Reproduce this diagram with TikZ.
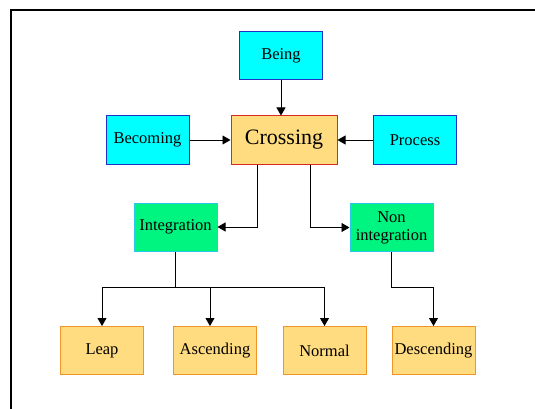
\documentclass[tikz,border=0pt]{standalone}
\usepackage{fontspec}
\setmainfont{Liberation Serif}
\usetikzlibrary{arrows.meta}

\definecolor{boxcyan}{RGB}{0,255,255}
\definecolor{edgeblue}{RGB}{30,50,200}
\definecolor{boxgreen}{RGB}{0,245,128}
\definecolor{edgecyan}{RGB}{40,200,230}
\definecolor{boxsand}{RGB}{255,220,128}
\definecolor{edgeorange}{RGB}{240,150,40}
\definecolor{edgered}{RGB}{220,40,30}

\begin{document}
\begin{tikzpicture}[x=1pt,y=-1pt,
    box/.style={draw,line width=1pt,minimum width=83pt,minimum height=48pt,
                inner sep=2pt,font=\fontsize{16.5}{18}\selectfont,align=center},
    origin/.style={box,fill=boxcyan,draw=edgeblue},
    branch/.style={box,fill=boxgreen,draw=edgecyan},
    leaf/.style={box,fill=boxsand,draw=edgeorange},
    link/.style={line width=0.8pt,-{Triangle[length=8pt,width=9pt]}}]

                \useasboundingbox (0,0) rectangle (535,409);
                \draw [line width=1.6pt] (11,409)--(11,10)--(535,10);

                % top row
                \node [origin] (Being) at (281,55.5) {Being};
                \node [origin] (Becoming) at (147.5,140) {Becoming};
                \node [box,fill=boxsand,draw=edgered,minimum width=106pt,
                       font=\fontsize{22}{22}\selectfont] (Crossing) at (284,140) {Crossing};
                \node [origin] (Process) at (415,140) {Process};

                % middle row
                \node [branch] (Integration) at (175.5,227) {Integration};
                \node [branch] (NonInt) at (391.5,227.5) {Non\\integration};

                % bottom row
                \node [leaf] (Leap) at (102,350.5) {Leap};
                \node [leaf] (Ascending) at (215,350.5) {Ascending};
                \node [leaf] (Normal) at (324.5,350.5) {Normal};
                \node [leaf] (Descending) at (433.5,350.5) {Descending};

                \coordinate (bus) at (175.5,287);

                \draw [link] (Being.south)--(Being.south|-Crossing.north);
                \draw [link] (Becoming)--(Crossing);
                \draw [link] (Process)--(Crossing);

                \draw [link] ([xshift=-27pt]Crossing.south) |- (Integration.east);
                \draw [link] ([xshift=26pt]Crossing.south) |- (NonInt.west);

                \draw [line width=0.8pt] (Integration.south)--(bus);
                \draw [link] (bus) -| (Leap.north);
                \draw [link] (bus) -| ([xshift=-5pt]Ascending.north);
                \draw [link] (bus) -| (Normal.north);
                \draw [link] (NonInt.south)--++(0,35) -| (Descending.north);
\end{tikzpicture}
\end{document}
